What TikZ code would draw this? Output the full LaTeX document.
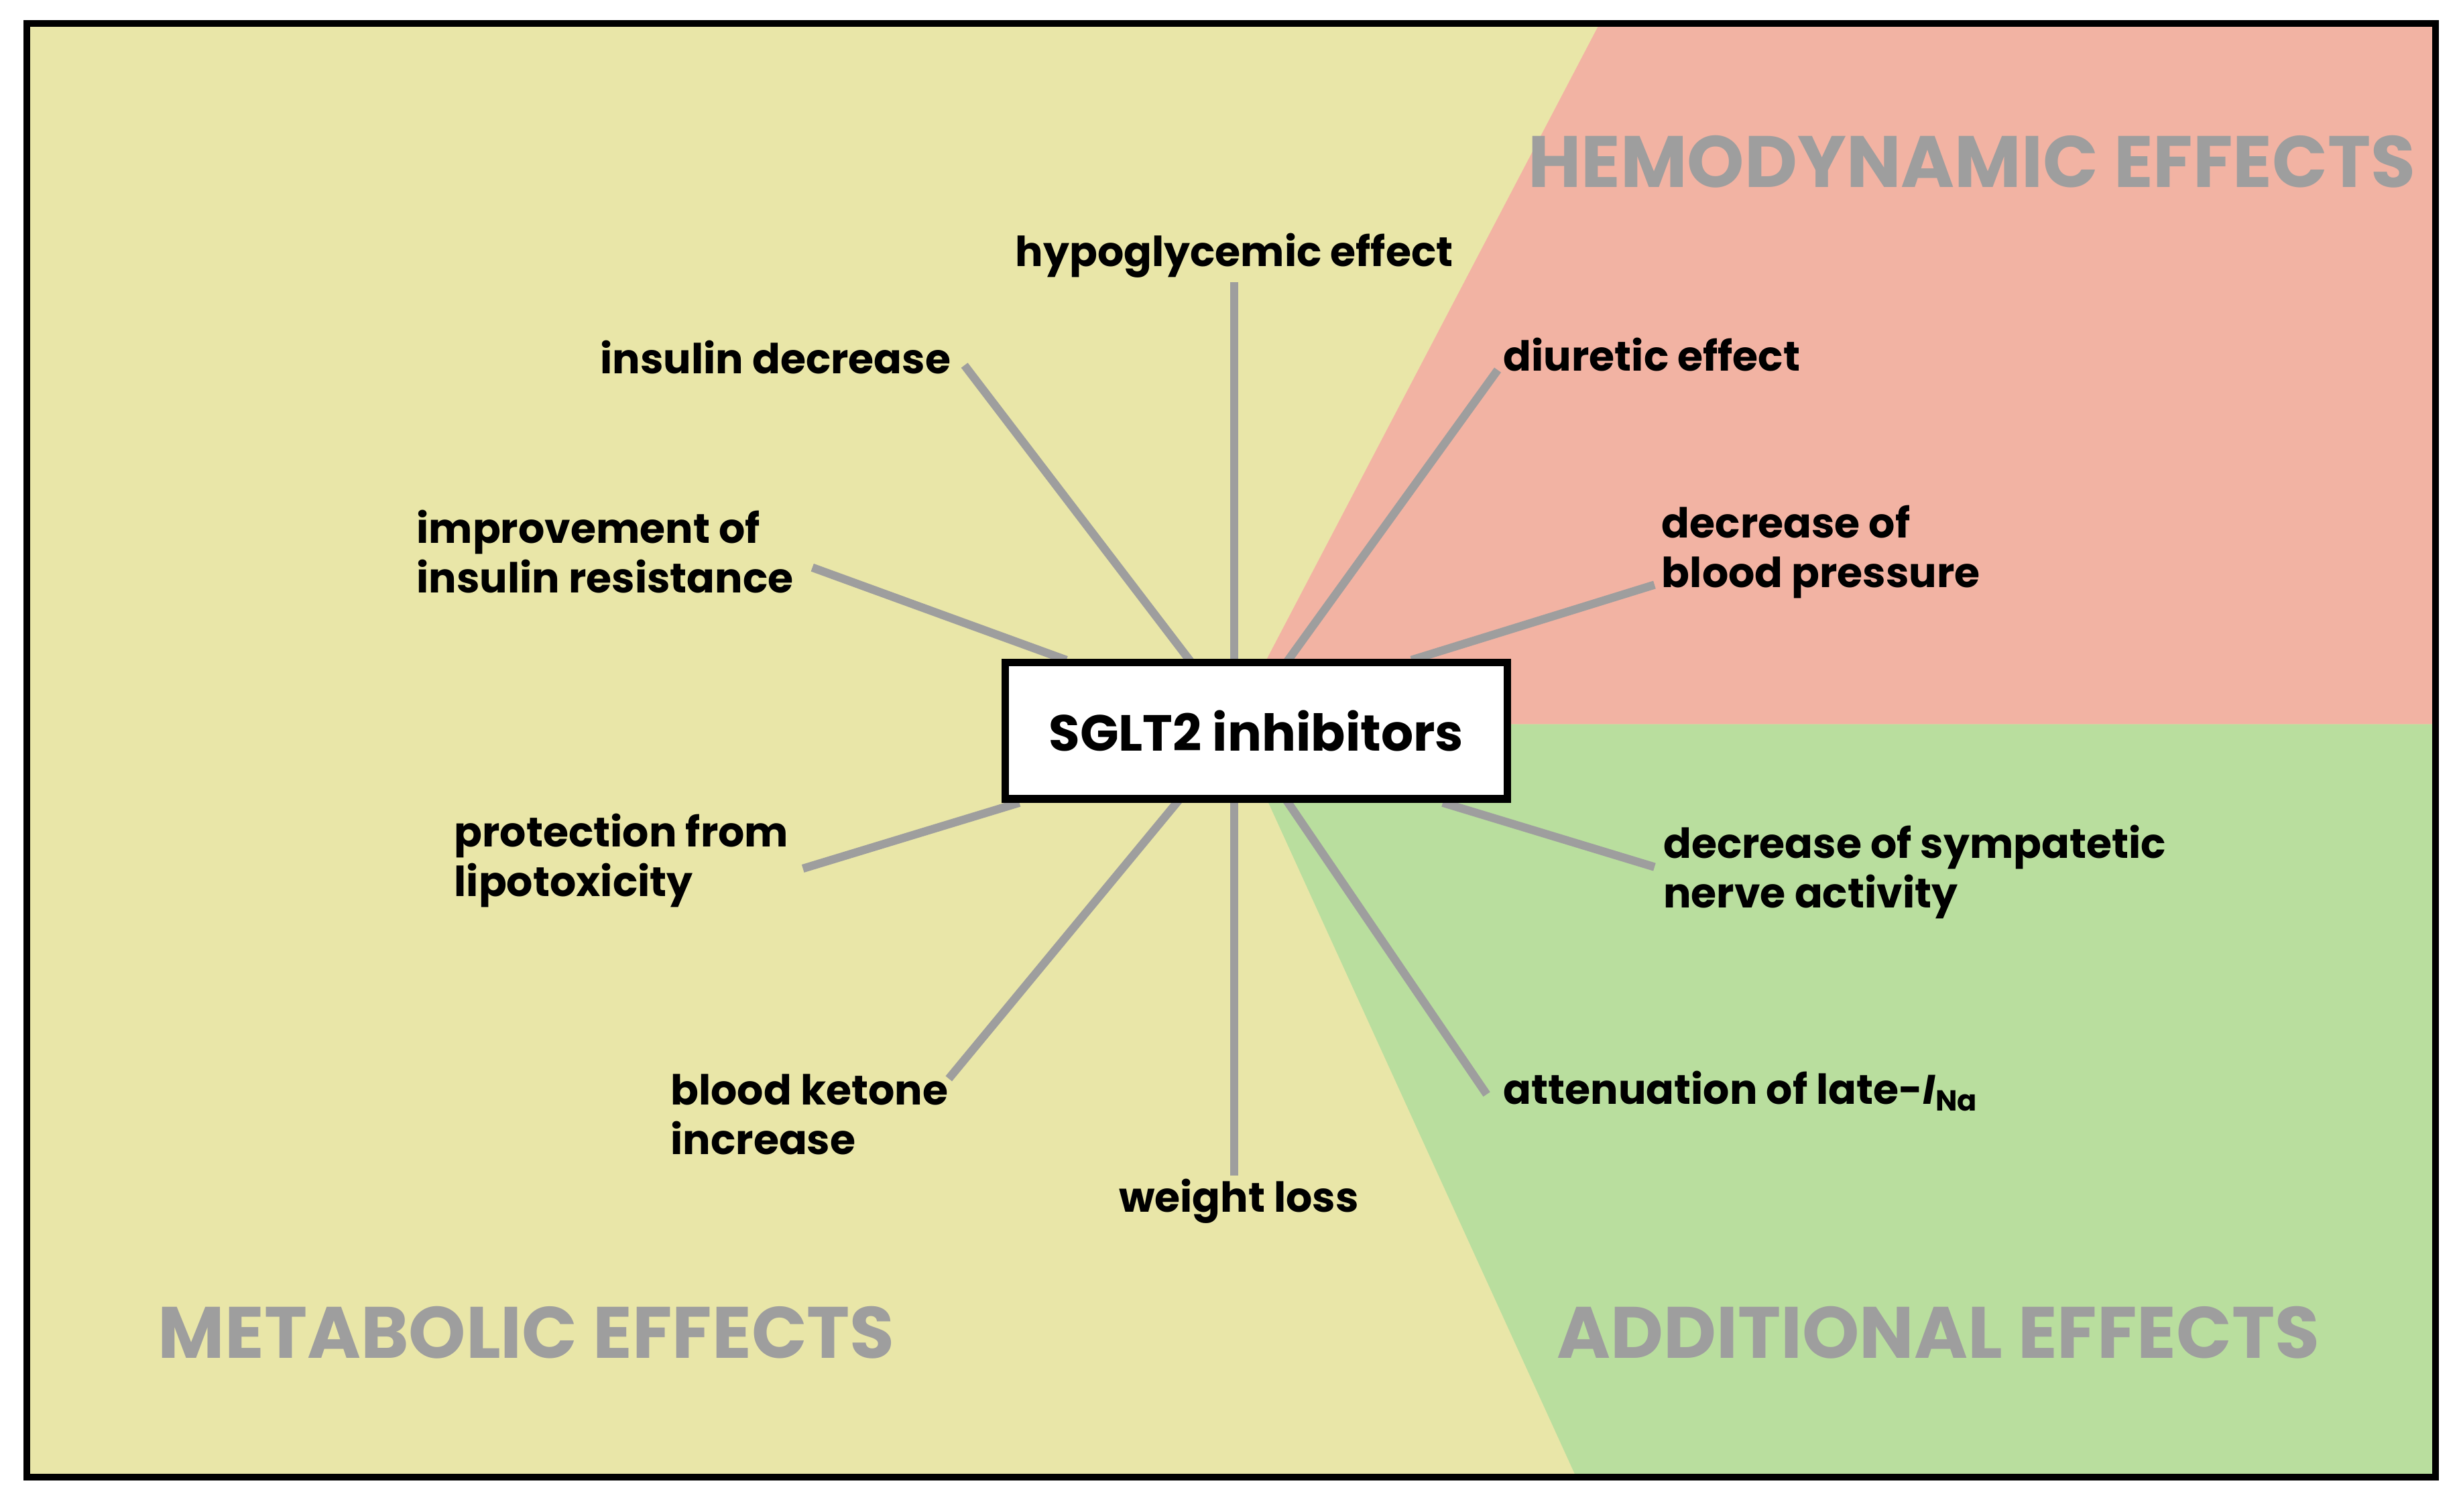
\documentclass[tikz,border=0pt]{standalone}
\usepackage{fontspec}
\setmainfont{Poppins}
\begin{document}
\begin{tikzpicture}[x=0.01cm,y=-0.01cm,
  lab/.style={font=\bfseries\fontsize{7.5pt}{9pt}\selectfont, align=left, inner sep=0pt, text=black},
  head/.style={font=\bfseries\fontsize{13.2pt}{15pt}\selectfont, text=black!38, inner sep=0pt},
  spoke/.style={draw=black!38, line width=1.5pt}]
\useasboundingbox (0,0) rectangle (1568,964);
\fill[fill={rgb,255:red,233;green,230;blue,168}] (17,15) rectangle (1553,942);
\fill[fill={rgb,255:red,242;green,179;blue,163}] (1020,15) -- (1553,15) -- (1553,462) -- (786,462) -- cycle;
\fill[fill={rgb,255:red,185;green,222;blue,158}] (786,462) -- (1553,462) -- (1553,942) -- (1005,942) -- cycle;
\draw[line width=1.2pt] (17,15) rectangle (1553,942);

\node[head, anchor=east] (hem) at (1541,103) {HEMODYNAMIC EFFECTS};
\node[head, anchor=west] (met) at (100,850) {METABOLIC EFFECTS};
\node[head, anchor=west] (add) at (992,850) {ADDITIONAL EFFECTS};

\coordinate (h1) at (787,423); \coordinate (h2) at (787,180);
\coordinate (i1) at (760,423); \coordinate (i2) at (615,233);
\coordinate (r1) at (680,421); \coordinate (r2) at (518,362);
\coordinate (p1) at (650,512); \coordinate (p2) at (512,554);
\coordinate (k1) at (752,510); \coordinate (k2) at (605,688);
\coordinate (w1) at (787,510); \coordinate (w2) at (787,750);
\coordinate (a1) at (820,510); \coordinate (a2) at (948,698);
\coordinate (s1) at (920,512); \coordinate (s2) at (1055,553);
\coordinate (b1) at (900,421); \coordinate (b2) at (1055,373);
\coordinate (d1) at (820,423); \coordinate (d2) at (955,236);
\foreach \a/\b in {h1/h2,i1/i2,r1/r2,p1/p2,k1/k2,w1/w2,a1/a2,s1/s2,b1/b2,d1/d2}
  \draw[spoke] (\a) -- (\b);

\node[draw=black, line width=1.4pt, fill=white, minimum width=3.2cm, minimum height=0.87cm,
  font=\bfseries\fontsize{9.2pt}{10pt}\selectfont] (sglt) at (801,466) {SGLT2 inhibitors};

\node[lab, anchor=center] (hyp) at (787,163) {hypoglycemic effect};
\node[lab, anchor=east] (ins) at (607,228) {insulin decrease};
\node[lab, anchor=west] (imp) at (265,352) {improvement of\\insulin resistance};
\node[lab, anchor=west] (pro) at (289,549) {protection from\\lipotoxicity};
\node[lab, anchor=west] (ket) at (427,711) {blood ketone\\increase};
\node[lab, anchor=center] (wl) at (790,766) {weight loss};
\node[lab, anchor=west] (att) at (958,696) {attenuation of late-\textit{I}\textsubscript{Na}};
\node[lab, anchor=west] (sym) at (1060,556) {decrease of sympatetic\\nerve activity};
\node[lab, anchor=west] (bp) at (1059,352) {decrease of\\blood pressure};
\node[lab, anchor=west] (diu) at (958,226) {diuretic effect};
\end{tikzpicture}
\end{document}
